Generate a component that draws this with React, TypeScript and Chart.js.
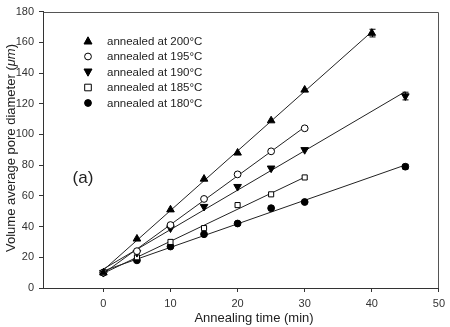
import React, { useEffect, useRef } from "react";
import { Chart, registerables } from "chart.js";
Chart.register(...registerables);

// Annealing time (min) and volume average pore diameter (µm)
const labels = ["annealed at 200°C", "annealed at 195°C", "annealed at 190°C", "annealed at 185°C", "annealed at 180°C"];
const times200 = [0, 5, 10, 15, 20, 25, 30, 40];
const diam200 = [10, 32, 51, 71, 88, 109, 129, 166];
const err200 = [0, 0, 0, 0, 0, 0, 0, 2.5];
const times195 = [0, 5, 10, 15, 20, 25, 30];
const diam195 = [10, 24, 41, 58, 74, 89, 104];
const err195 = [0, 0, 0, 0, 0, 0, 0];
const times190 = [0, 5, 10, 15, 20, 25, 30, 45];
const diam190 = [10, 23, 39, 53, 66, 78, 90, 125];
const err190 = [0, 0, 0, 0, 0, 0, 0, 2.5];
const times185 = [0, 5, 10, 15, 20, 25, 30];
const diam185 = [10, 20, 30, 39, 54, 61, 72];
const err185 = [0, 0, 0, 0, 0, 0, 0];
const times180 = [0, 5, 10, 15, 20, 25, 30, 45];
const diam180 = [10, 18, 27, 35, 42, 52, 56, 79];
const err180 = [0, 0, 0, 0, 0, 0, 0, 1.5];

const xTicks = [0, 10, 20, 30, 40, 50];
const yTicks = [0, 20, 40, 60, 80, 100, 120, 140, 160, 180];

const FONT = "'Liberation Sans', Arial, sans-serif";

function fit(xs: number[], ys: number[]) {
  const n = xs.length;
  const mx = xs.reduce((a, b) => a + b, 0) / n;
  const my = ys.reduce((a, b) => a + b, 0) / n;
  let sxy = 0, sxx = 0;
  for (let i = 0; i < n; i++) { sxy += (xs[i] - mx) * (ys[i] - my); sxx += (xs[i] - mx) ** 2; }
  const b = sxy / sxx;
  const a = my - b * mx;
  const x0 = Math.min(...xs), x1 = Math.max(...xs);
  return [{ x: x0, y: a + b * x0 }, { x: x1, y: a + b * x1 }];
}

const series = [
  { t: times200, d: diam200, e: err200, style: "triangle", rot: 0, fill: "#000" },
  { t: times195, d: diam195, e: err195, style: "circle", rot: 0, fill: "#fff" },
  { t: times190, d: diam190, e: err190, style: "triangle", rot: 180, fill: "#000" },
  { t: times185, d: diam185, e: err185, style: "rect", rot: 0, fill: "#fff" },
  { t: times180, d: diam180, e: err180, style: "circle", rot: 0, fill: "#000" },
];

export default function App() {
  const ref = useRef<HTMLCanvasElement>(null);
  useEffect(() => {
    if (!ref.current) return;
    const pointSets: any[] = series.map((s, i) => ({
      type: "scatter",
      label: labels[i],
      data: s.t.map((x, j) => ({ x, y: s.d[j] })),
      errors: s.e,
      pointStyle: s.style,
      rotation: s.rot,
      pointRadius: s.style === "rect" ? 3.6 : s.style === "triangle" ? 4.4 : 3.4,
      pointBackgroundColor: s.fill,
      pointBorderColor: "#000",
      pointBorderWidth: 1,
      showLine: false,
      order: 0,
    }));
    const lineSets: any[] = series.map((s) => ({
      type: "line",
      data: fit(s.t, s.d),
      borderColor: "#222",
      borderWidth: 1,
      pointRadius: 0,
      fill: false,
      order: 1,
    }));

    const deco = {
      id: "deco",
      afterDatasetsDraw(chart: any) {
        const ctx = chart.ctx;
        const xs = chart.scales.x, ys = chart.scales.y;
        ctx.save();
        ctx.strokeStyle = "#000";
        ctx.lineWidth = 1;
        pointSets.forEach((ds) => {
          ds.data.forEach((p: any, j: number) => {
            const e = ds.errors[j];
            if (!e) return;
            const px = Math.round(xs.getPixelForValue(p.x)) + 0.5;
            const yt = ys.getPixelForValue(p.y + e);
            const yb = ys.getPixelForValue(p.y - e);
            ctx.beginPath();
            ctx.moveTo(px, yt); ctx.lineTo(px, yb);
            ctx.moveTo(px - 3, yt); ctx.lineTo(px + 3, yt);
            ctx.moveTo(px - 3, yb); ctx.lineTo(px + 3, yb);
            ctx.stroke();
          });
        });
        ctx.restore();
      },
      afterDraw(chart: any) {
        const ctx = chart.ctx;
        const ca = chart.chartArea;
        ctx.save();
        // frame top/right
        ctx.strokeStyle = "#555";
        ctx.lineWidth = 1;
        ctx.beginPath();
        ctx.moveTo(Math.round(ca.left) + 0.5, Math.round(ca.top) + 0.5);
        ctx.lineTo(Math.round(ca.right) - 0.5, Math.round(ca.top) + 0.5);
        ctx.lineTo(Math.round(ca.right) - 0.5, Math.round(ca.bottom));
        ctx.stroke();

        // legend
        const rows = [41, 56.5, 72, 87.5, 103];
        ctx.font = `11.5px ${FONT}`;
        ctx.textBaseline = "middle";
        ctx.textAlign = "left";
        rows.forEach((y, i) => {
          const s = series[i];
          ctx.fillStyle = "#222";
          ctx.fillText(labels[i], 107, y + 0.5);
          ctx.beginPath();
          ctx.lineWidth = 1;
          ctx.strokeStyle = "#000";
          ctx.fillStyle = s.fill;
          const cx = 88, r = 3.4;
          if (s.style === "circle") {
            ctx.arc(cx, y, r, 0, Math.PI * 2);
          } else if (s.style === "rect") {
            ctx.rect(cx - 3.3, y - 3.3, 6.6, 6.6);
          } else if (s.rot === 0) {
            ctx.moveTo(cx, y - 4.2); ctx.lineTo(cx + 4, y + 3); ctx.lineTo(cx - 4, y + 3); ctx.closePath();
          } else {
            ctx.moveTo(cx, y + 4.2); ctx.lineTo(cx + 4, y - 3); ctx.lineTo(cx - 4, y - 3); ctx.closePath();
          }
          ctx.fill();
          ctx.stroke();
        });

        // (a) label
        ctx.fillStyle = "#222";
        ctx.font = `17px ${FONT}`;
        ctx.textAlign = "center";
        ctx.fillText("(a)", 83, 178);

        // x title
        ctx.font = `13px ${FONT}`;
        ctx.fillText("Annealing time (min)", 254, 318);

        // y title
        ctx.translate(11, 148);
        ctx.rotate(-Math.PI / 2);
        const p1 = "Volume average pore diameter (";
        const p2 = "μm";
        const p3 = ")";
        ctx.font = `13px ${FONT}`;
        const w1 = ctx.measureText(p1).width;
        const w3 = ctx.measureText(p3).width;
        ctx.font = `italic 13px ${FONT}`;
        const w2 = ctx.measureText(p2).width;
        let x = -(w1 + w2 + w3) / 2;
        ctx.textAlign = "left";
        ctx.font = `13px ${FONT}`;
        ctx.fillText(p1, x, 0);
        x += w1;
        ctx.font = `italic 13px ${FONT}`;
        ctx.fillText(p2, x, 0);
        x += w2;
        ctx.font = `13px ${FONT}`;
        ctx.fillText(p3, x, 0);
        ctx.restore();
      },
    };

    const chart = new Chart(ref.current, {
      type: "scatter",
      data: { datasets: [...pointSets, ...lineSets] },
      options: {
        animation: false,
        responsive: true,
        maintainAspectRatio: false,
        layout: { padding: { left: 0, right: 7, top: 8, bottom: 0 } },
        plugins: { legend: { display: false }, tooltip: { enabled: false } },
        scales: {
          x: {
            type: "linear",
            min: -9,
            max: 50,
            afterBuildTicks: (s: any) => { s.ticks = xTicks.map((v) => ({ value: v })); },
            afterFit: (s: any) => { s.height = 39; },
            border: { display: true, color: "#333", width: 1 },
            grid: { drawOnChartArea: false, tickLength: 4, color: "#333" },
            ticks: { color: "#333", font: { family: FONT, size: 11 }, padding: 5, maxRotation: 0 },
          },
          y: {
            type: "linear",
            min: 0,
            max: 180,
            afterBuildTicks: (s: any) => { s.ticks = yTicks.map((v) => ({ value: v })); },
            afterFit: (s: any) => { s.width = 43; },
            border: { display: true, color: "#333", width: 1 },
            grid: { drawOnChartArea: false, tickLength: 4, color: "#333" },
            ticks: { color: "#333", font: { family: FONT, size: 11 }, padding: 5 },
          },
        },
      },
      plugins: [deco],
    } as any);
    return () => chart.destroy();
  }, []);
  return (
    <div style={{ position: "absolute", left: 0, top: 0, width: 450, height: 327, background: "#fff" }}>
      <canvas ref={ref} />
    </div>
  );
}
